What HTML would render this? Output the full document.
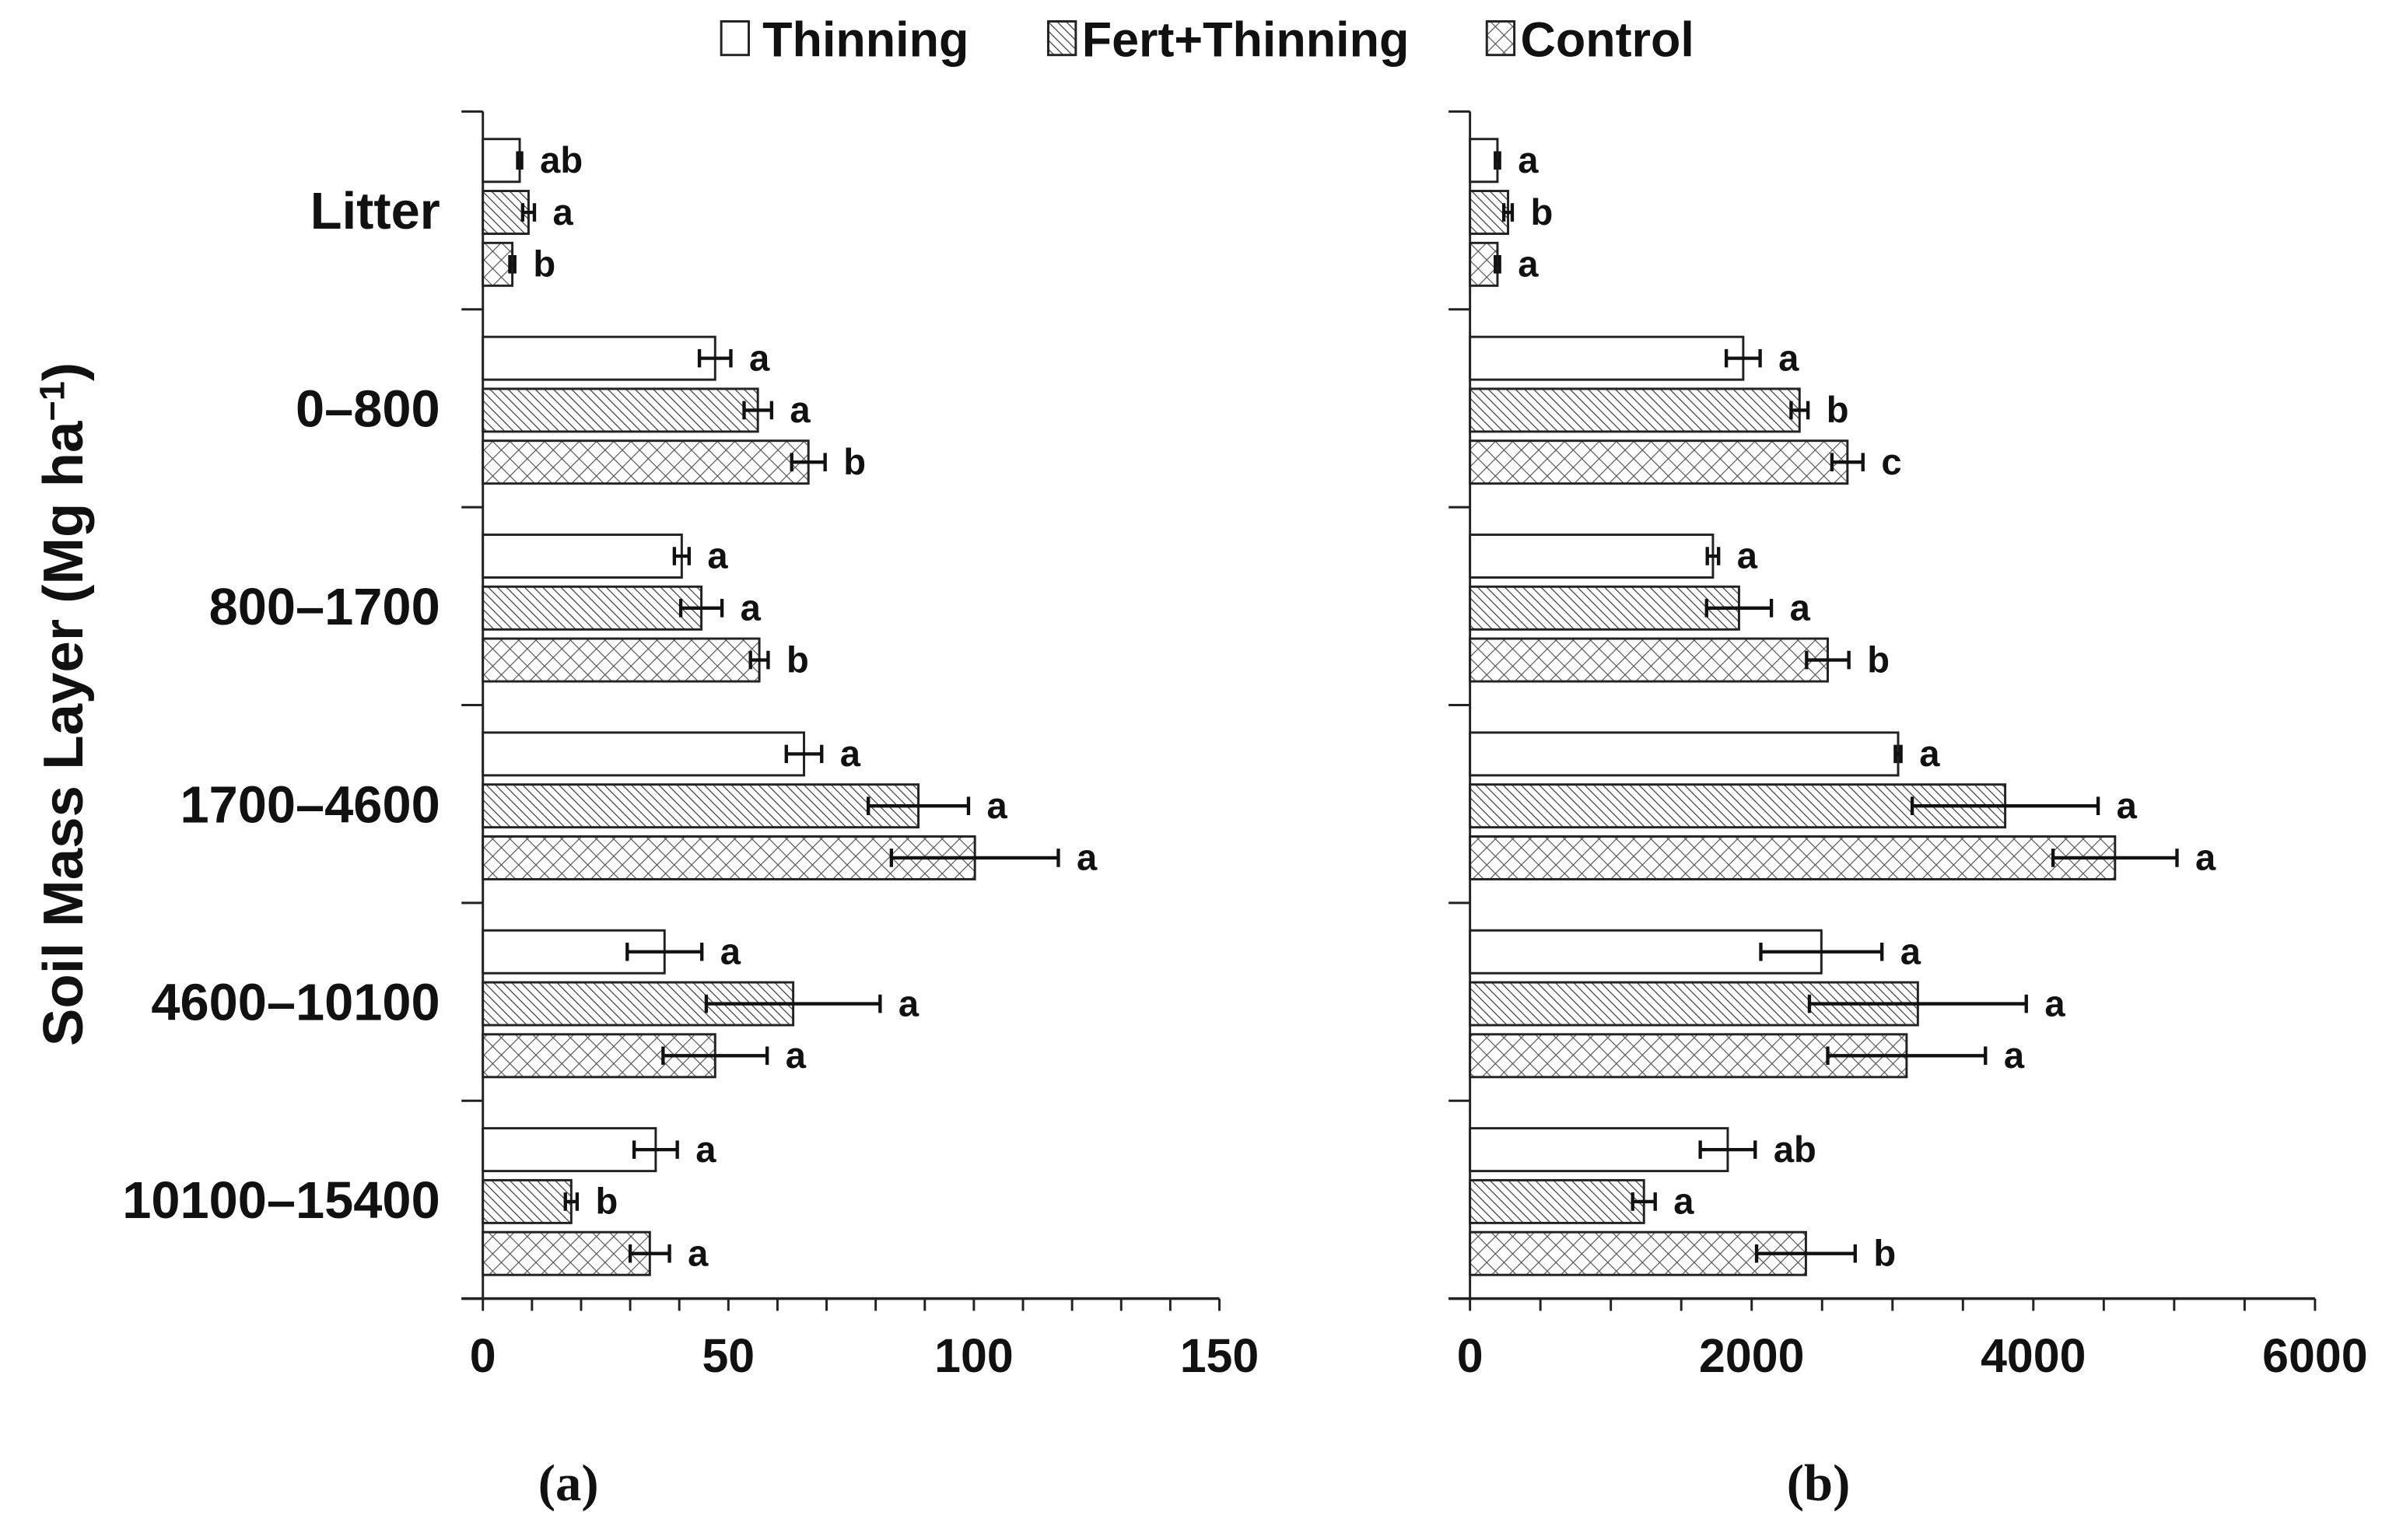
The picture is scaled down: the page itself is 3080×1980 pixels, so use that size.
<!DOCTYPE html>
<html><head><meta charset="utf-8"><style>
html,body{margin:0;padding:0;background:#fff;}
svg{display:block;}
text{font-family:"Liberation Sans Narrow","Liberation Sans",sans-serif;font-weight:bold;fill:#111;}
</style></head><body>
<svg id="chart" width="3080" height="1980" viewBox="0 0 1568 1008" xmlns="http://www.w3.org/2000/svg">
<defs>
<pattern id="hatch" patternUnits="userSpaceOnUse" width="4.2" height="4.2" patternTransform="rotate(-45)">
<rect width="4.2" height="4.2" fill="#fff"/><line x1="0" y1="0" x2="0" y2="4.2" stroke="#444" stroke-width="1.3"/></pattern>
<pattern id="cross" patternUnits="userSpaceOnUse" width="8" height="8" patternTransform="rotate(45)">
<rect width="8" height="8" fill="#fff"/><line x1="0" y1="0" x2="0" y2="8" stroke="#555" stroke-width="1.2"/><line x1="0" y1="0" x2="8" y2="0" stroke="#555" stroke-width="1.2"/></pattern>
</defs>
<g id="legend">
<g><rect x="472" y="14" width="18" height="22" fill="#fff" stroke="#222" stroke-width="1.5"/><text x="499" y="37" font-size="32">Thinning</text></g>
<g><rect x="686" y="14" width="18" height="22" fill="url(#hatch)" stroke="#222" stroke-width="1.5"/><text x="708" y="37" font-size="32">Fert+Thinning</text></g>
<g><rect x="973" y="14" width="18" height="22" fill="url(#cross)" stroke="#222" stroke-width="1.5"/><text x="995" y="37" font-size="32">Control</text></g>
</g>
<text transform="translate(54,461) rotate(-90)" text-anchor="middle" font-size="37">Soil Mass Layer (Mg ha<tspan dy="-12" font-size="23">−1</tspan><tspan dy="12">)</tspan></text>
<text x="372" y="982" text-anchor="middle" font-size="34" style="font-family:'Liberation Serif',serif">(<tspan font-weight="bold">a</tspan>)</text>
<text x="1190" y="982" text-anchor="middle" font-size="34" style="font-family:'Liberation Serif',serif">(<tspan font-weight="bold">b</tspan>)</text>
</svg>
<script>
const categories = ["Litter","0–800","800–1700","1700–4600","4600–10100","10100–15400"];
const seriesNames = ["Thinning","Fert+Thinning","Control"];
const aThin = [7.5,47.3,40.5,65.4,37,35.2];
const aFert = [9.3,56,44.5,88.7,63.2,18];
const aCtrl = [6,66.3,56.3,100.2,47.3,34];
const aThinErr = [0.4,3.2,1.5,3.6,7.6,4.4];
const aFertErr = [1.2,2.8,4.2,10.2,17.7,1.2];
const aCtrlErr = [0.5,3.4,1.8,17,10.6,4];
const aThinLet = ["ab","a","a","a","a","a"];
const aFertLet = ["a","a","a","a","a","b"];
const aCtrlLet = ["b","b","b","a","a","a"];
const bThin = [195,1940,1725,3040,2495,1830];
const bFert = [270,2340,1910,3800,3180,1235];
const bCtrl = [195,2680,2540,4580,3100,2385];
const bThinErr = [15,120,40,20,430,195];
const bFertErr = [30,60,230,660,770,80];
const bCtrlErr = [15,110,150,440,560,350];
const bThinLet = ["a","a","a","a","a","ab"];
const bFertLet = ["b","b","a","a","a","a"];
const bCtrlLet = ["a","c","b","a","a","b"];
const aTicks = [0,50,100,150];
const bTicks = [0,2000,4000,6000];

const NS="http://www.w3.org/2000/svg";
const svg=document.getElementById('chart');
function mk(tag,attrs,parent){const e=document.createElementNS(NS,tag);for(const k in attrs)e.setAttribute(k,attrs[k]);(parent||svg).appendChild(e);return e;}
const yTop=73, yBot=850, catH=(yBot-yTop)/categories.length;
const fills=["#fff","url(#hatch)","url(#cross)"];
function yBar(ci,si){return yTop+ci*catH+18+si*34;}

function panel(id,x0,x1,vmax,minorStep,ticks,vals,errs,lets,showCats){
  const g=mk('g',{});
  
  
  const xs=v=>x0+(x1-x0)*v/vmax;
  const ya=mk('line',{x1:x0,y1:yTop,x2:x0,y2:yBot,stroke:'#222','stroke-width':1.5},g);
  
  
  for(let i=0;i<=categories.length;i++){
    const y=yTop+i*catH;
    const t=mk('line',{x1:x0-14,y1:y,x2:x0,y2:y,stroke:'#222','stroke-width':1.5},g);
    
    
  }
  const xa=mk('line',{x1:x0-14,y1:yBot,x2:x1,y2:yBot,stroke:'#222','stroke-width':1.8},g);
  
  
  for(let v=0;v<=vmax+1e-9;v+=minorStep){
    const t=mk('line',{x1:xs(v),y1:yBot,x2:xs(v),y2:yBot+8,stroke:'#222','stroke-width':1.5},g);
    
    
  }
  ticks.forEach(v=>{
    const t=mk('text',{x:xs(v),y:yBot+48,'text-anchor':'middle','font-size':31},g);
    t.textContent=v;
    
    
  });
  categories.forEach((c,ci)=>{
    if(showCats){
      const t=mk('text',{x:288,y:yTop+ci*catH+catH/2+12,'text-anchor':'end','font-size':34},g);
      t.textContent=c;
      
      
    }
    for(let si=0;si<3;si++){
      const v=vals[si][ci], e=errs[si][ci], y=yBar(ci,si), h=28, cy=y+h/2;
      const r=mk('rect',{x:x0,y:y,width:xs(v)-x0,height:h,fill:fills[si],stroke:'#222','stroke-width':1.5},g);
      
      
      const lo=xs(v-e), hi=xs(v+e);
      const eb=mk('path',{d:`M${lo},${cy}H${hi}M${lo},${cy-6}V${cy+6}M${hi},${cy-6}V${cy+6}`,stroke:'#111','stroke-width':2.2,fill:'none'},g);
      
      
      const lt=mk('text',{x:Math.max(hi,xs(v))+12,y:cy+8,'font-size':24},g);
      lt.textContent=lets[si][ci];
      
      
    }
  });
}
panel('a',316,798,150,10,aTicks,[aThin,aFert,aCtrl],[aThinErr,aFertErr,aCtrlErr],[aThinLet,aFertLet,aCtrlLet],true);
panel('b',962,1515,6000,500,bTicks,[bThin,bFert,bCtrl],[bThinErr,bFertErr,bCtrlErr],[bThinLet,bFertLet,bCtrlLet],false);
</script>
</body></html>
